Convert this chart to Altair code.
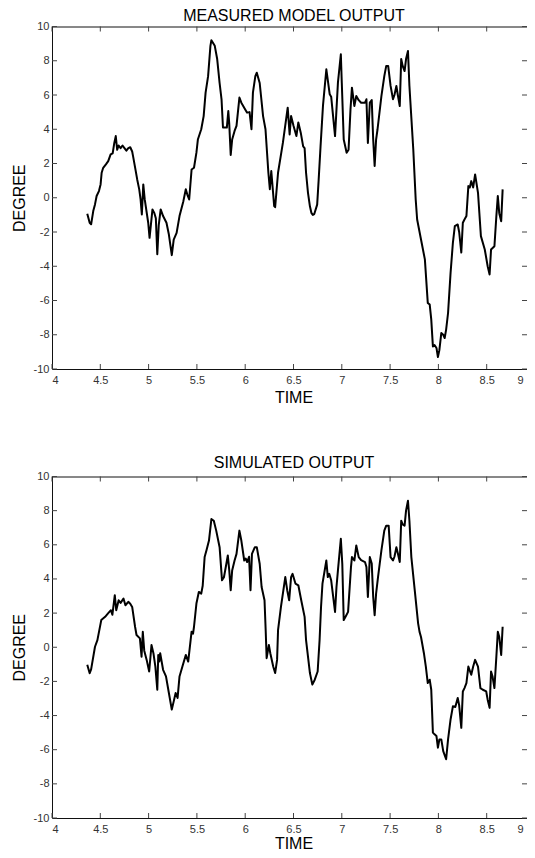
import altair as alt
import pandas as pd

# ---- data ----
t_meas = [4.365, 4.39, 4.405, 4.427, 4.445, 4.462, 4.486, 4.503, 4.514, 4.53, 4.558, 4.582, 4.607, 4.628,
          4.645, 4.66, 4.675, 4.69, 4.71, 4.73, 4.75, 4.77, 4.79, 4.81, 4.83, 4.84, 4.86, 4.882, 4.903,
          4.917, 4.93, 4.945, 4.96, 4.996, 5.01, 5.04, 5.06, 5.075, 5.09, 5.105, 5.125, 5.15, 5.185,
          5.21, 5.24, 5.26, 5.29, 5.32, 5.36, 5.385, 5.40, 5.42, 5.445, 5.47, 5.495, 5.51, 5.545, 5.57,
          5.59, 5.616, 5.64, 5.65, 5.685, 5.71, 5.735, 5.755, 5.77, 5.81, 5.825, 5.835, 5.85, 5.865,
          5.89, 5.91, 5.94, 5.96, 6.0, 6.02, 6.045, 6.065, 6.08, 6.105, 6.12, 6.15, 6.185, 6.21, 6.24,
          6.255, 6.27, 6.30, 6.31, 6.34, 6.39, 6.44, 6.46, 6.475, 6.50, 6.53, 6.55, 6.575, 6.60, 6.615,
          6.63, 6.65, 6.67, 6.685, 6.70, 6.715, 6.745, 6.76, 6.78, 6.805, 6.84, 6.875, 6.89, 6.93,
          6.945, 6.96, 6.99, 7.00, 7.02, 7.05, 7.07, 7.09, 7.105, 7.13, 7.15, 7.175, 7.2, 7.24, 7.255,
          7.27, 7.29, 7.31, 7.325, 7.34, 7.355, 7.37, 7.41, 7.44, 7.46, 7.48, 7.505, 7.53, 7.545, 7.565,
          7.58, 7.6, 7.615, 7.63, 7.65, 7.665, 7.685, 7.70, 7.74, 7.765, 7.78, 7.82, 7.86, 7.89, 7.91,
          7.926, 7.943, 7.96, 7.98, 7.995, 8.01, 8.03, 8.05, 8.065, 8.08, 8.10, 8.126, 8.15, 8.17, 8.2,
          8.215, 8.237, 8.253, 8.27, 8.29, 8.31, 8.325, 8.34, 8.36, 8.38, 8.41, 8.44, 8.48, 8.51, 8.53,
          8.545, 8.58, 8.6, 8.615, 8.63, 8.65, 8.665]
v_meas = [-0.94, -1.46, -1.55, -0.78, -0.39, 0.10, 0.39, 0.78, 1.46, 1.75, 1.95, 2.14, 2.53, 2.59,
          3.2, 3.6, 2.8, 3.05, 2.9, 3.05, 2.9, 2.75, 2.9, 2.95, 2.7, 2.4, 1.77, 1.07, 0.49,
          -0.1, -0.98, 0.78, -0.1, -1.46, -2.34, -0.68, -0.9, -1.2, -3.3, -1.6, -0.68, -1.07, -1.46,
          -2.15, -3.35, -2.44, -2.05, -1.07, -0.2, 0.5, 0.2, -0.1, 1.65, 1.75, 2.63, 3.4, 4.0, 4.77,
          6.14, 7.1, 8.87, 9.2, 8.87, 8.1, 6.7, 5.75, 4.1, 4.1, 5.06, 4.3, 2.5, 3.4,
          3.9, 4.2, 5.85, 5.55, 5.16, 4.97, 5.0, 4.0, 6.14, 7.1, 7.3, 6.7, 4.77, 4.0, 1.46,
          0.5, 1.56, -0.49, -0.55, 1.46, 3.2, 5.26, 3.7, 4.77, 4.2, 3.6, 4.4, 3.8, 3.0, 2.9,
          1.46, 0.29, -0.5, -0.88, -1.0, -0.95, -0.4, 1.0, 3.0, 5.36, 7.5, 6.04, 5.9, 3.6,
          5.16, 6.72, 8.38, 6.7, 3.4, 2.63, 2.8, 5.16, 6.43, 5.36, 5.94, 5.7, 5.55, 5.55, 5.75,
          3.2, 5.55, 5.7, 3.4, 1.85, 3.4, 4.0, 5.94, 7.1, 7.7, 7.7, 6.53, 5.75, 6.0, 6.53,
          6.0, 5.36, 8.1, 7.7, 7.4, 8.1, 8.57, 6.53, 2.82, -0.1, -1.27, -2.44, -3.6, -6.14, -6.24,
          -7.1, -8.68, -8.6, -8.77, -9.3, -8.9, -7.9, -8.0, -8.19, -7.7, -6.73, -4.39, -2.63, -1.66, -1.56,
          -2.0, -3.2, -1.46, -1.27, -1.07, 0.68, 0.6, 0.97, 0.6, 1.36, 0.29, -2.24, -3.02, -4.0, -4.48,
          -3.02, -2.83, -1.07, 0.1, -0.9, -1.37, 0.49]

t_sim = [4.365, 4.39, 4.405, 4.445, 4.47, 4.51, 4.55, 4.58, 4.61, 4.625, 4.65, 4.665, 4.69, 4.71, 4.74,
         4.76, 4.79, 4.81, 4.83, 4.86, 4.875, 4.91, 4.927, 4.94, 4.955, 4.98, 5.006, 5.03, 5.05, 5.07,
         5.09, 5.10, 5.11, 5.12, 5.15, 5.18, 5.21, 5.24, 5.26, 5.28, 5.30, 5.32, 5.35, 5.385, 5.41,
         5.435, 5.445, 5.46, 5.47, 5.495, 5.52, 5.545, 5.56, 5.58, 5.6, 5.625, 5.65, 5.675, 5.70,
         5.735, 5.76, 5.78, 5.805, 5.82, 5.835, 5.85, 5.865, 5.89, 5.91, 5.94, 5.96, 5.99, 6.005,
         6.02, 6.04, 6.055, 6.07, 6.10, 6.12, 6.15, 6.17, 6.2, 6.212, 6.222, 6.245, 6.26, 6.29, 6.31,
         6.33, 6.34, 6.37, 6.415, 6.435, 6.455, 6.475, 6.49, 6.52, 6.55, 6.58, 6.615, 6.63, 6.67,
         6.695, 6.72, 6.75, 6.77, 6.785, 6.8, 6.84, 6.855, 6.87, 6.89, 6.93, 6.945, 6.96, 6.99, 7.005,
         7.02, 7.04, 7.065, 7.095, 7.105, 7.13, 7.15, 7.175, 7.2, 7.24, 7.255, 7.27, 7.29, 7.31, 7.325,
         7.34, 7.355, 7.375, 7.41, 7.44, 7.46, 7.485, 7.505, 7.53, 7.545, 7.565, 7.58, 7.6, 7.615,
         7.63, 7.65, 7.665, 7.685, 7.70, 7.72, 7.755, 7.79, 7.805, 7.82, 7.85, 7.87, 7.89, 7.91, 7.926,
         7.943, 7.96, 7.98, 7.995, 8.01, 8.03, 8.05, 8.08, 8.10, 8.126, 8.15, 8.175, 8.2, 8.215, 8.237,
         8.253, 8.27, 8.29, 8.31, 8.34, 8.36, 8.38, 8.41, 8.435, 8.46, 8.495, 8.51, 8.53, 8.545, 8.56,
         8.58, 8.6, 8.615, 8.63, 8.65, 8.665]
v_sim = [-1.03, -1.52, -1.3, 0.03, 0.42, 1.59, 1.78, 1.98, 2.17, 1.9, 3.05, 2.17, 2.75, 2.6, 2.85,
         2.46, 2.66, 2.55, 2.36, 1.2, 0.72, 0.52, -0.55, 0.91, -0.2, -0.74, -1.42, 0.13, -0.35, -1.13,
         -2.49, -0.45, -0.84, -0.35, -1.32, -1.71, -2.68, -3.65, -3.17, -2.68, -2.97, -1.71, -1.13, -0.45, -0.84,
         0.42, 0.91, 0.8, 1.2, 2.56, 3.24, 3.14, 3.6, 5.28, 5.7, 6.25, 7.51, 7.41, 6.83,
         5.86, 3.92, 4.1, 4.89, 5.38, 4.5, 3.34, 4.5, 5.08, 5.47, 6.83, 6.25, 5.08, 5.2,
         4.99, 5.3, 3.34, 5.47, 5.86, 5.86, 4.89, 3.53, 2.75, 1.0, -0.64, 0.13, -0.35, -1.13, -1.51,
         -0.74, 1.0, 2.36, 4.11, 3.34, 2.75, 4.11, 4.3, 3.73, 3.63, 2.75, 1.78, 0.42, -1.51,
         -2.19, -1.9, -1.42, 0.42, 2.36, 3.73, 5.08, 4.11, 4.3, 3.92, 2.07, 3.53, 4.5, 6.35, 4.9,
         1.59, 1.8, 2.07, 4.69, 5.28, 5.08, 5.96, 5.28, 5.1, 4.99, 4.7, 2.95, 5.28, 4.9, 2.95,
         1.88, 3.14, 4.11, 5.67, 6.83, 7.12, 7.12, 5.28, 5.08, 5.3, 5.86, 5.5, 4.99, 7.41,
         7.2, 7.12, 8.0, 8.58, 7.41, 5.28, 3.34, 1.4, 0.9, 0.6, -0.35, -1.13, -2.1, -1.9, -2.49,
         -5.0, -5.1, -5.2, -5.88, -5.4, -5.4, -6.08, -6.56, -5.4, -4.23, -3.46, -3.5, -2.97, -3.4, -4.72,
         -2.59, -2.39, -2.1, -1.13, -1.61, -1.13, -0.74, -1.13, -2.39, -2.49, -2.59, -3.07, -3.55, -1.42, -1.7,
         -2.39, -0.55, 0.91, 0.6, -0.45, 1.2]

x_ticks = [4, 4.5, 5, 5.5, 6, 6.5, 7, 7.5, 8, 8.5, 9]
y_ticks = [-10, -8, -6, -4, -2, 0, 2, 4, 6, 8, 10]

title_top = "MEASURED MODEL OUTPUT"
title_bottom = "SIMULATED OUTPUT"
x_title = "TIME"
y_title = "DEGREE"

# ---- layout (pixels) ----
W = 483
CUT = 8                        # part of the box hidden past the right page edge
PANEL_TOP = [0, 450]           # view-y of each panel's top edge
PANEL_H = [342.5, 341.5]       # panel heights
H = PANEL_TOP[1] + PANEL_H[1]
TICK = 5
FONT = "Liberation Sans"
AXC = "#111111"
TKC = "#444444"
LBC = "#333333"

df_meas = pd.DataFrame({"t": t_meas, "v": v_meas})
df_sim = pd.DataFrame({"t": t_sim, "v": v_sim})
df_xt = pd.DataFrame({"tick": x_ticks})
df_yt = pd.DataFrame({"tick": y_ticks})


def xs():
    return alt.Scale(domain=[4, 9], range=[0, W], nice=False, zero=False)


def ys(i):
    return alt.Scale(domain=[-10, 10], range=[PANEL_TOP[i] + PANEL_H[i], PANEL_TOP[i]],
                     nice=False, zero=False)


last_label_shift = {"condition": {"test": "datum.value >= 9", "value": -12}, "value": 0}


def x_bottom_axis(offset, lab_pad, extent, title_pad):
    return alt.Axis(orient="bottom", offset=offset, values=x_ticks, title=x_title, grid=False,
                    ticks=False, tickSize=0, labelPadding=lab_pad, labelFontSize=11, labelFont=FONT,
                    labelColor=LBC, domainColor=AXC, minExtent=extent, maxExtent=extent,
                    titlePadding=title_pad, titleFontSize=16, titleFont=FONT,
                    titleFontWeight="normal", titleColor="#000", labelOverlap=False,
                    labelExpr="datum.value", labelOffset=last_label_shift)


def x_top_axis(offset, title, title_pad):
    return alt.Axis(orient="top", offset=offset, values=x_ticks, title=title, grid=False,
                    ticks=False, tickSize=0, labels=False, domainColor=AXC, minExtent=0,
                    maxExtent=0, titlePadding=title_pad, titleFontSize=16, titleFont=FONT,
                    titleFontWeight="normal", titleColor="#000")


def y_left_axis():
    return alt.Axis(orient="left", values=y_ticks, title=y_title, grid=False, ticks=False,
                    tickSize=0, labelPadding=3, labelFontSize=11, labelFont=FONT, labelColor=LBC,
                    domainColor=AXC, minExtent=20, maxExtent=20, titlePadding=5,
                    titleFontSize=16, titleFont=FONT, titleFontWeight="normal", titleColor="#000",
                    labelOverlap=False, labelExpr="datum.value")


bottom_axes = [
    x_bottom_axis(-(H - PANEL_H[0]), 5, 16, 4),
    x_bottom_axis(0, 5, 16, 1),
]
top_axes = [
    x_top_axis(0, title_top, 2.6),
    x_top_axis(-PANEL_TOP[1], title_bottom, 6.4),
]

layers = []
for i, df in enumerate([df_meas, df_sim]):
    layers.append(
        alt.Chart(df).mark_line(color="black", strokeWidth=2, strokeJoin="round").encode(
            x=alt.X("t:Q", scale=xs(), axis=bottom_axes[i]),
            y=alt.Y("v:Q", scale=ys(i), axis=y_left_axis()),
            order="t:Q",
        )
    )

for i in range(2):
    top = PANEL_TOP[i]
    bot = PANEL_TOP[i] + PANEL_H[i]
    # top axis (carries the panel title) + inward ticks
    layers.append(
        alt.Chart(df_xt).mark_rule(color=TKC, strokeWidth=1).encode(
            x=alt.X("tick:Q", scale=xs(), axis=top_axes[i]),
            y=alt.value(top), y2=alt.value(top + TICK),
        )
    )
    # bottom inward ticks
    layers.append(
        alt.Chart(df_xt).mark_rule(color=TKC, strokeWidth=1).encode(
            x=alt.X("tick:Q", scale=xs(), axis=None),
            y=alt.value(bot), y2=alt.value(bot - TICK),
        )
    )
    # left inward ticks
    layers.append(
        alt.Chart(df_yt).mark_rule(color=TKC, strokeWidth=1).encode(
            y=alt.Y("tick:Q", scale=ys(i), axis=None),
            x=alt.value(0), x2=alt.value(TICK),
        )
    )
    # right ticks, drawn at the visible right edge
    layers.append(
        alt.Chart(df_yt).mark_rule(color=TKC, strokeWidth=1).encode(
            y=alt.Y("tick:Q", scale=ys(i), axis=None),
            x=alt.value(W - CUT), x2=alt.value(W - CUT - TICK),
        )
    )

# svg = 44 + 483 - 8 = 519 px wide (fits the page); the right box edge is cut off as in the reference
chart = alt.layer(*layers).resolve_scale(
    x="independent", y="independent"
).resolve_axis(
    x="independent", y="independent"
).properties(
    width=W, height=H,
    autosize=alt.AutoSizeParams(type="none"),
    padding={"left": 44, "top": 18.5, "right": -CUT, "bottom": 32},
    background="white",
).configure_view(strokeWidth=0)

chart.save("out.html", embed_options={"renderer": "svg", "actions": False})
